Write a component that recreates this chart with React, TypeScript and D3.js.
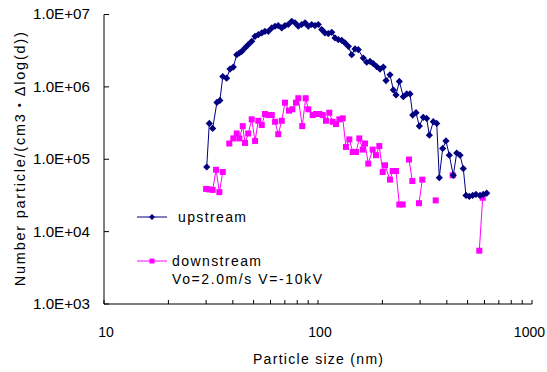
import React from "react";
import * as d3 from "d3";

const upSize = [30.2,31.05,32.2,33.7,34.8,35.9,37.4,38.8,40.2,41.7,42.9,44.0,45.6,47.2,49.0,50.8,52.6,54.6,56.5,58.6,60.8,63.0,65.2,67.7,70.1,72.6,75.4,78.1,80.9,83.9,87.0,90.1,93.4,96.8,100.3,104.1,107.8,111.7,115.9,120.1,124.4,129.0,133.7,138.6,143.7,148.9,154.3,162.8,168.9,175.0,181.3,188.1,194.9,201.9,207.9,217.0,224.9,231.5,239.9,250.4,259.8,269.1,277.1,287.1,297.5,310.5,322.0,331.3,345.8,358.7,368.8,382.5,396.3,410.7,428.7,444.8,460.9,477.5,491.6,509.3,528.3,547.3,571.4,592.1,614.3];
const upValue = [78200,313000,267000,609000,649000,1.39e6,1.32e6,1.76e6,1.88e6,2.78e6,2.94e6,3.09e6,3.45e6,3.83e6,4.26e6,5.0e6,5.27e6,5.57e6,5.86e6,5.86e6,6.53e6,6.88e6,7.03e6,6.53e6,7.03e6,7.27e6,8.07e6,7.67e6,6.88e6,7.27e6,7.67e6,6.88e6,7.27e6,7.03e6,7.27e6,6.19e6,5.57e6,5.45e6,5.68e6,4.75e6,4.5e6,4.4e6,4.05e6,3.63e6,2.78e6,3.34e6,3.27e6,2.5e6,2.19e6,2.25e6,2.09e6,1.91e6,1.76e6,1.88e6,1.22e6,1.47e6,908000,774000,1.19e6,733000,800000,800000,408000,440000,287000,379000,367000,215000,330000,313000,55700,141000,179000,114000,60000,122000,114000,74300,31600,30600,31600,32700,31600,32700,34000];

const downSize = [30.0,31.05,32.2,33.4,34.6,35.9,37.2,38.5,40.2,41.7,42.9,44.5,45.6,47.2,49.0,50.8,52.6,54.6,56.5,58.6,60.8,63.0,65.2,67.7,70.1,73.2,75.9,78.9,80.9,84.4,87.6,90.1,94.4,97.9,101.4,105.2,109.0,112.9,117.1,121.4,125.8,130.5,135.1,140.1,145.3,150.5,156.0,161.8,165.8,171.8,180.1,186.6,193.4,200.6,205.6,217.0,223.4,231.5,239.9,248.8,257,266.2,275.9,286,296.5,307.3,330,354.8,390,426.0,500,567.1,588.3];
const downValue: (number | null)[] = [38900,38300,37700,71500,35100,66600,null,165000,194000,227000,194000,287000,168000,227000,356000,179000,340000,297000,422000,408000,408000,330000,222000,340000,605000,469000,490000,605000,697000,287000,697000,490000,408000,422000,422000,408000,340000,440000,330000,306000,356000,367000,148000,188000,126000,126000,194000,136000,165000,87100,136000,114000,152000,66600,82500,52300,68800,68800,23700,23700,null,99100,50000,null,24700,52300,null,27000,null,60000,null,5450,29400];

const yTicks = [1e3, 1e4, 1e5, 1e6, 1e7];
const yTickLabels = ["1.0E+03", "1.0E+04", "1.0E+05", "1.0E+06", "1.0E+07"];
const xMajor = [10, 100, 1000];
const xMajorLabels = ["10", "100", "1000"];
const xMinor = [20, 30, 40, 50, 60, 70, 80, 90, 200, 300, 400, 500, 600, 700, 800, 900];

const UP = "#000080";
const DOWN = "#FF00FF";
const FONT = "'Liberation Sans', Arial, 'Noto Sans CJK JP', sans-serif";

type P = { x: number; v: number | null };

export default function App() {
  const x = d3.scaleLog().domain([10, 1000]).range([104, 532]);
  const y = d3.scaleLog().domain([1e3, 1e7]).range([304, 14.5]);

  const up: P[] = upSize.map((s, i) => ({ x: s, v: upValue[i] }));
  const down: P[] = downSize.map((s, i) => ({ x: s, v: downValue[i] }));

  const line = d3
    .line<P>()
    .defined((d) => d.v != null)
    .x((d) => x(d.x))
    .y((d) => y(d.v as number));

  const diamond = (cx: number, cy: number, r: number) =>
    `M${cx},${cy - r}L${cx + r},${cy}L${cx},${cy + r}L${cx - r},${cy}Z`;
  const square = (cx: number, cy: number, r: number) =>
    `M${cx - r},${cy - r}h${2 * r}v${2 * r}h${-2 * r}Z`;

  const [x0, x1] = x.range();
  const [yb, yt] = y.range();

  return (
    <svg
      width={547}
      height={372}
      style={{ position: "absolute", left: 0, top: 0, background: "#fff" }}
      fontFamily={FONT}
    >
      <rect x={0} y={0} width={547} height={372} fill="#fff" />
      {/* axes */}
      <line x1={x0} x2={x0} y1={yt} y2={yb} stroke="#000" strokeWidth={1} />
      <line x1={x0} x2={x1} y1={yb} y2={yb} stroke="#000" strokeWidth={1} />
      {yTicks.map((t, i) => (
        <g key={"yt" + t}>
          <line x1={x0} x2={x0 + 5} y1={y(t)} y2={y(t)} stroke="#000" />
          <text x={90} y={y(t)} dy="0.35em" textAnchor="end" fontSize={14} textLength={57} lengthAdjust="spacingAndGlyphs" fill="#000">
            {yTickLabels[i]}
          </text>
        </g>
      ))}
      {xMajor.map((t, i) => (
        <g key={"xt" + t}>
          <line x1={x(t)} x2={x(t)} y1={yb} y2={yb - 4} stroke="#000" />
          <text
            x={i === 2 ? 545 : x(t) + 2}
            y={332}
            dy="0.35em"
            textAnchor={i === 2 ? "end" : "middle"}
            fontSize={14}
            fill="#000"
          >
            {xMajorLabels[i]}
          </text>
        </g>
      ))}
      {xMinor.map((t) => (
        <line key={"xm" + t} x1={x(t)} x2={x(t)} y1={yb} y2={yb - 4} stroke="#000" />
      ))}
      <text x={318} y={359} dy="0.35em" textAnchor="middle" fontSize={14} textLength={130} lengthAdjust="spacing" fill="#000">
        Particle size (nm)
      </text>
      <text
        transform={`translate(20,${(yt + yb) / 2}) rotate(-90)`}
        dy="0.35em"
        textAnchor="middle"
        fontSize={14.5}
        textLength={254}
        lengthAdjust="spacing"
        fill="#000"
      >
        Number particle/(cm3・Δlog(d))
      </text>

      {/* series */}
      <path d={line(down) || ""} fill="none" stroke={DOWN} strokeWidth={1} />
      {down
        .filter((d) => d.v != null)
        .map((d, i) => (
          <path key={"dm" + i} d={square(x(d.x), y(d.v as number), 3)} fill={DOWN} />
        ))}
      <path d={line(up) || ""} fill="none" stroke={UP} strokeWidth={1} />
      {up.map((d, i) => (
        <path key={"um" + i} d={diamond(x(d.x), y(d.v as number), 3.6)} fill={UP} />
      ))}

      {/* legend */}
      <line x1={137} x2={167} y1={217} y2={217} stroke={UP} />
      <path d={diamond(152, 217, 3)} fill={UP} />
      <text x={178} y={217} dy="0.35em" fontSize={14} textLength={68} lengthAdjust="spacing" fill="#000">upstream</text>
      <line x1={137} x2={167} y1={261} y2={261} stroke={DOWN} />
      <path d={square(152, 261, 2.5)} fill={DOWN} />
      <text x={172} y={261} dy="0.35em" fontSize={14} textLength={89} lengthAdjust="spacing" fill="#000">downstream</text>
      <text x={172} y={279} dy="0.35em" fontSize={14} textLength={150} lengthAdjust="spacing" fill="#000">Vo=2.0m/s V=-10kV</text>
    </svg>
  );
}
